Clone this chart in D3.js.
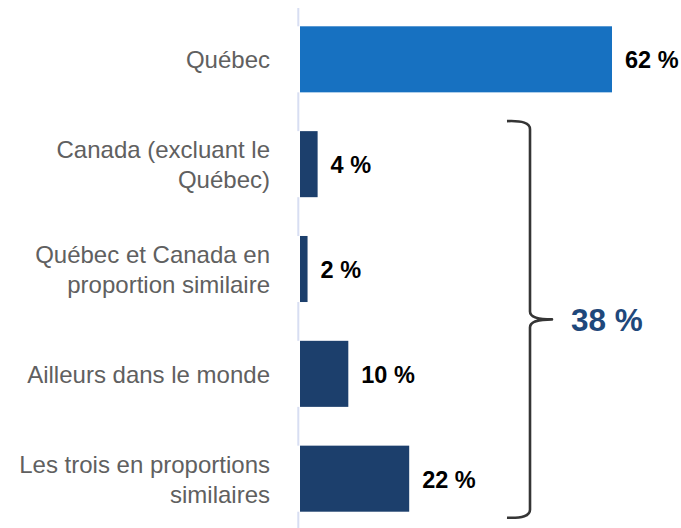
<!DOCTYPE html>
<html>
<head>
<meta charset="utf-8">
<script src="https://cdn.jsdelivr.net/npm/d3@7"></script>
<style>
  html, body { margin: 0; padding: 0; background: #ffffff; }
  svg { display: block; }
</style>
</head>
<body>
<svg id="chart" width="681" height="528"></svg>
<script>
// ---- data ----
const categories = [
  "Québec",
  "Canada (excluant le Québec)",
  "Québec et Canada en proportion similaire",
  "Ailleurs dans le monde",
  "Les trois en proportions similaires"
];
const categoryLines = [
  ["Québec"],
  ["Canada (excluant le", "Québec)"],
  ["Québec et Canada en", "proportion similaire"],
  ["Ailleurs dans le monde"],
  ["Les trois en proportions", "similaires"]
];
const values = [62, 3.5, 1.5, 9.6, 21.7];
const valueLabels = ["62 %", "4 %", "2 %", "10 %", "22 %"];
const groupedCategories = categories.slice(1);
const groupTotalLabel = "38 %";

// ---- layout ----
const svg = d3.select("#chart");
const x = d3.scaleLinear().domain([0, 62]).range([300, 612]);
const y = d3.scaleBand().domain(categories).range([6.9, 531.1])
  .paddingInner(0.37).paddingOuter(0.185);
const bw = y.bandwidth();

// axis line
svg.append("line")
  .attr("x1", 298.3).attr("x2", 298.3)
  .attr("y1", 8).attr("y2", 528)
  .attr("stroke", "#d8def2").attr("stroke-width", 2);

const data = categories.map((c, i) => ({ c, v: values[i], label: valueLabels[i], lines: categoryLines[i], i }));

// white gaps on axis beside bars
svg.selectAll("rect.gap").data(data).enter().append("rect")
  .attr("class", "gap")
  .attr("x", x(0) - 3.5).attr("width", 3.5)
  .attr("y", d => y(d.c)).attr("height", bw)
  .attr("fill", "#ffffff");

// bars
svg.selectAll("rect.bar").data(data).enter().append("rect")
  .attr("class", "bar")
  .attr("x", x(0))
  .attr("y", d => y(d.c))
  .attr("width", d => x(d.v) - x(0))
  .attr("height", bw)
  .attr("fill", d => d.i === 0 ? "#1771c1" : "#1c3f6c");

// value labels
svg.selectAll("text.val").data(data).enter().append("text")
  .attr("class", "val")
  .attr("x", d => x(d.v) + 13)
  .attr("y", d => y(d.c) + bw / 2 + 9)
  .attr("font-family", "Liberation Sans, Arial, sans-serif")
  .attr("font-weight", "bold")
  .attr("font-size", 23.5)
  .attr("fill", "#000000")
  .text(d => d.label);

// category labels
const lab = svg.selectAll("text.cat").data(data).enter().append("text")
  .attr("class", "cat")
  .attr("text-anchor", "end")
  .attr("font-family", "Liberation Sans, Arial, sans-serif")
  .attr("font-size", 24)
  .attr("fill", "#606060");
lab.each(function(d) {
  const t = d3.select(this);
  const n = d.lines.length;
  d.lines.forEach((ln, k) => {
    t.append("tspan")
      .attr("x", 270)
      .attr("y", y(d.c) + bw / 2 + (k - (n - 1) / 2) * 30 + 9)
      .text(ln);
  });
});

// brace
const braceTop = y(groupedCategories[0]) - 10;
const braceBot = y(groupedCategories[groupedCategories.length - 1]) + bw + 6;
const braceMid = (braceTop + braceBot) / 2;
const bx = 530, lx = 507, tx = 552;
const bracePath = `M${lx},${braceTop} Q${bx},${braceTop - 1} ${bx},${braceTop + 8} L${bx},${braceMid - 8} Q${bx},${braceMid} ${tx},${braceMid} Q${bx},${braceMid} ${bx},${braceMid + 8} L${bx},${braceBot - 8} Q${bx},${braceBot + 1} ${lx},${braceBot}`;
svg.append("path")
  .attr("d", bracePath)
  .attr("fill", "none")
  .attr("stroke", "#353535")
  .attr("stroke-width", 2.6)
  .attr("stroke-linejoin", "round");

svg.append("text")
  .attr("x", 571)
  .attr("y", braceMid + 12)
  .attr("font-family", "Liberation Sans, Arial, sans-serif")
  .attr("font-weight", "bold")
  .attr("font-size", 31.5)
  .attr("fill", "#1f487b")
  .text(groupTotalLabel);
</script>
</body>
</html>
